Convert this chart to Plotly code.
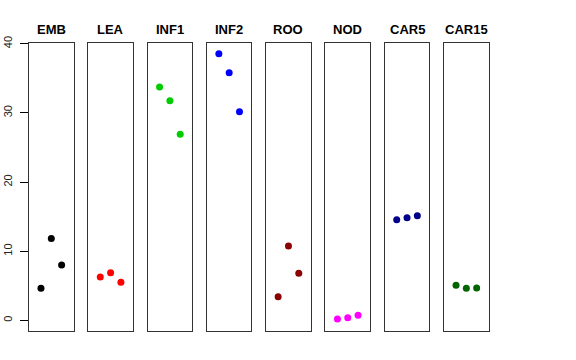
import plotly.graph_objects as go

# ---- data ----
panels = ["EMB", "LEA", "INF1", "INF2", "ROO", "NOD", "CAR5", "CAR15"]
replicate = [1, 2, 3]
emb = [4.63, 11.85, 8.00]
lea = [6.26, 6.88, 5.49]
inf1 = [33.73, 31.75, 26.89]
inf2 = [38.54, 35.80, 30.16]
roo = [3.41, 10.74, 6.79]
nod = [0.19, 0.38, 0.72]
car5 = [14.54, 14.83, 15.12]
car15 = [5.06, 4.63, 4.67]
series = [emb, lea, inf1, inf2, roo, nod, car5, car15]
colors = ["#000000", "#FF0000", "#00CD00", "#0000FF", "#8B0000", "#FF00FF", "#00008B", "#006400"]
y_ticks = [0, 10, 20, 30, 40]

W, H = 576, 360
left0, step, pw = 29.0, 59.29, 44.6
top_px, bot_px = 43.3, 330.7

fig = go.Figure()
layout = dict(
    width=W, height=H,
    margin=dict(l=0, r=0, t=0, b=0, pad=0, autoexpand=False),
    paper_bgcolor="white", plot_bgcolor="white",
    showlegend=False,
    font=dict(family="Liberation Sans, Arial, sans-serif", color="black"),
)
annotations = []
for i, (name, vals, col) in enumerate(zip(panels, series, colors)):
    n = "" if i == 0 else str(i + 1)
    xa = "x" + n
    ya = "y" + n
    fig.add_trace(go.Scatter(
        x=replicate, y=vals, mode="markers",
        marker=dict(color=col, size=7),
        xaxis=xa, yaxis=ya, hoverinfo="x+y",
    ))
    l = left0 + step * i
    r = l + pw
    layout["xaxis" + n] = dict(
        domain=[l / W, r / W], range=[-0.16, 4.16],
        showgrid=False, zeroline=False, showticklabels=False, ticks="",
        showline=True, mirror=True, linecolor="#333333", linewidth=1,
        anchor=ya, fixedrange=True, automargin=False,
    )
    ydict = dict(
        domain=[1 - bot_px / H, 1 - top_px / H], range=[-1.5, 40.06],
        showgrid=False, zeroline=False,
        showline=True, mirror=True, linecolor="#333333", linewidth=1,
        anchor=xa, fixedrange=True, automargin=False,
    )
    if i == 0:
        ydict.update(tickvals=y_ticks, ticktext=[str(t) for t in y_ticks],
                     ticks="outside", ticklen=8, tickcolor="black",
                     tickangle=-90, tickfont=dict(size=11, color="#222222"),
                     ticklabelstandoff=4, showticklabels=True)
    else:
        ydict.update(showticklabels=False, ticks="")
    layout["yaxis" + n] = ydict
    annotations.append(dict(
        text="<b>" + name + "</b>", x=(l + r) / 2 / W, y=1 - 29.7 / H,
        xref="paper", yref="paper", xanchor="center", yanchor="middle",
        showarrow=False, font=dict(size=13, color="black"),
    ))
layout["annotations"] = annotations
fig.update_layout(**layout)
fig.write_html(
    "out.html",
    config={"displayModeBar": False},
    post_script="document.body.style.margin='0';document.body.style.padding='0';",
)
